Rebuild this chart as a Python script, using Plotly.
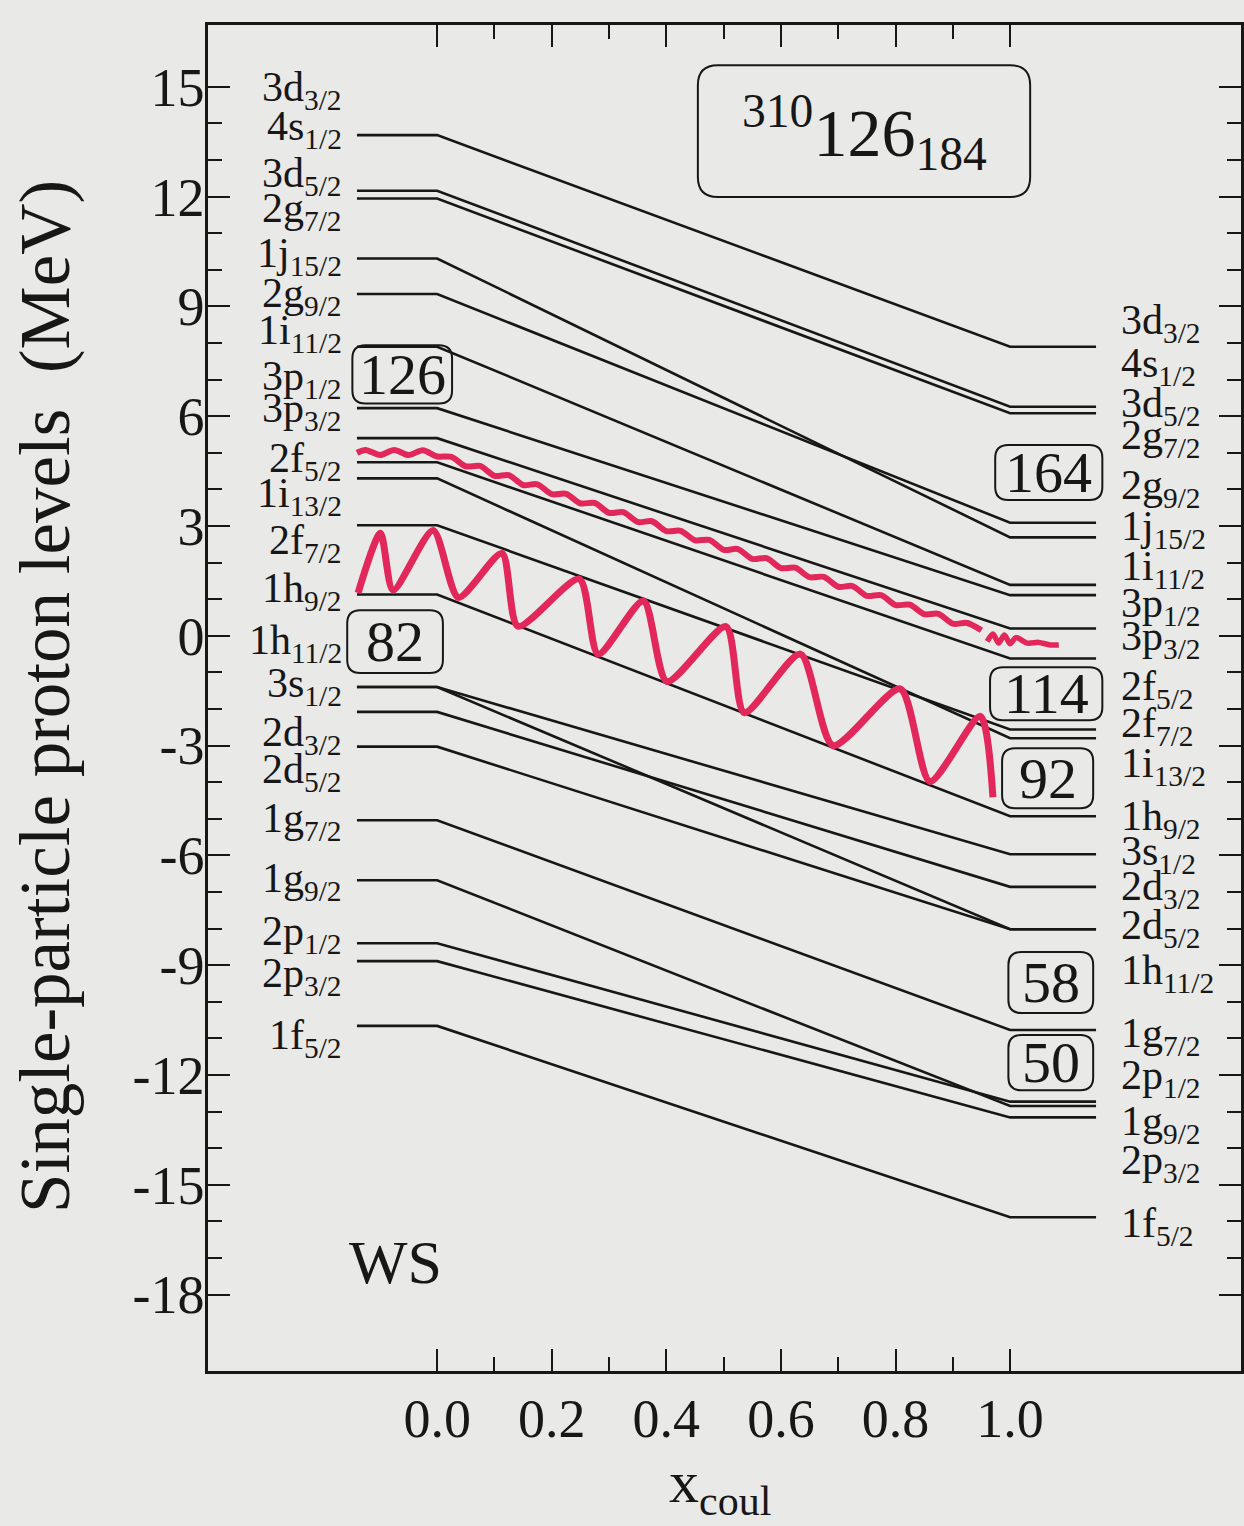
import plotly.graph_objects as go

# Single-particle proton levels of 310-126-184 (Woods-Saxon),
# switching the Coulomb field on from x_coul = 0 to x_coul = 1.
level_names = ["4s1/2", "3d5/2", "2g7/2", "1j15/2", "2g9/2", "1i11/2", "3p1/2",
               "3p3/2", "2f5/2", "1i13/2", "2f7/2", "1h9/2", "1h11/2", "3s1/2",
               "2d3/2", "2d5/2", "1g7/2", "1g9/2", "2p1/2", "2p3/2", "1f5/2"]
e_no_coulomb = [13.68, 12.16, 11.95, 10.31, 9.34, 7.90, 6.22,
                5.40, 4.74, 4.30, 3.02, 1.13, -1.40, -1.40,
                -2.08, -3.03, -5.04, -6.68, -8.40, -8.89, -10.66]
e_full_coulomb = [7.90, 6.26, 6.08, 2.69, 3.09, 1.39, 1.11,
                  0.20, -0.62, -2.80, -2.56, -4.93, -8.02, -5.97,
                  -6.86, -8.02, -10.77, -12.85, -12.73, -13.16, -15.89]

# level labels, listed top to bottom on each side (label centre in MeV)
left_labels = ["3d3/2", "4s1/2", "3d5/2", "2g7/2", "1j15/2", "2g9/2", "1i11/2",
               "3p1/2", "3p3/2", "2f5/2", "1i13/2", "2f7/2", "1h9/2", "1h11/2",
               "3s1/2", "2d3/2", "2d5/2", "1g7/2", "1g9/2", "2p1/2", "2p3/2", "1f5/2"]
left_label_e = [14.91, 13.84, 12.56, 11.60, 10.37, 9.28, 8.27,
                7.01, 6.14, 4.77, 3.81, 2.53, 1.22, -0.20,
                -1.38, -2.70, -3.71, -5.06, -6.70, -8.15, -9.30, -11.00]
right_labels = ["3d3/2", "4s1/2", "3d5/2", "2g7/2", "2g9/2", "1j15/2", "1i11/2",
                "3p1/2", "3p3/2", "2f5/2", "2f7/2", "1i13/2", "1h9/2", "3s1/2",
                "2d3/2", "2d5/2", "1h11/2", "1g7/2", "2p1/2", "1g9/2", "2p3/2", "1f5/2"]
right_label_e = [8.54, 7.37, 6.28, 5.40, 4.04, 2.92, 1.82,
                 0.81, -0.09, -1.46, -2.47, -3.56, -5.01, -5.96,
                 -6.92, -7.99, -9.22, -10.94, -12.09, -13.35, -14.41, -16.13]

# shell-closure numbers: (text, x0, x1, e_top, e_bottom)
magic_boxes = [("126", -0.148, 0.026, 7.94, 6.35),
               ("82", -0.157, 0.010, 0.70, -1.02),
               ("164", 0.974, 1.161, 5.21, 3.71),
               ("114", 0.965, 1.161, -0.86, -2.31),
               ("92", 0.986, 1.145, -3.07, -4.71),
               ("58", 0.997, 1.145, -8.64, -10.31),
               ("50", 0.997, 1.145, -10.91, -12.42)]

# red pen marks over the chart
zigzag_x = [-0.138, -0.099, -0.077, -0.007, 0.037, 0.113, 0.141, 0.248, 0.281, 0.360,
            0.401, 0.504, 0.536, 0.634, 0.691, 0.808, 0.860, 0.948, 0.970]
zigzag_e = [1.17, 2.80, 1.25, 2.88, 1.05, 2.25, 0.26, 1.55, -0.50, 0.95,
            -1.25, 0.25, -2.10, -0.50, -3.00, -1.45, -3.98, -2.20, -4.41]
wavy_x = [-0.140, -0.125, -0.100, -0.075, -0.050, -0.025, 0.000, 0.025, 0.050, 0.075,
          0.100, 0.125, 0.150, 0.175, 0.200, 0.225, 0.250, 0.275, 0.300, 0.325,
          0.350, 0.375, 0.400, 0.425, 0.450, 0.475, 0.500, 0.525, 0.550, 0.575,
          0.600, 0.625, 0.650, 0.675, 0.700, 0.725, 0.750, 0.775, 0.800, 0.825,
          0.850, 0.875, 0.900, 0.925, 0.950]
wavy_e = [5.00, 5.08, 4.94, 5.08, 4.94, 5.07, 4.90, 4.89, 4.63, 4.64,
          4.37, 4.39, 4.12, 4.14, 3.87, 3.88, 3.62, 3.63, 3.36, 3.38,
          3.11, 3.13, 2.86, 2.87, 2.61, 2.62, 2.35, 2.37, 2.10, 2.12,
          1.85, 1.86, 1.60, 1.61, 1.34, 1.36, 1.09, 1.11, 0.84, 0.85,
          0.59, 0.60, 0.33, 0.35, 0.15]
wavy_tail_x = [0.960, 0.970, 0.980, 0.990, 1.000, 1.010, 1.030, 1.050, 1.070, 1.085]
wavy_tail_e = [-0.15, 0.05, -0.20, 0.02, -0.22, -0.05, -0.20, -0.18, -0.25, -0.25]

y_tick_vals = [15, 12, 9, 6, 3, 0, -3, -6, -9, -12, -15, -18]
y_tick_text = ["15", "12", "9", "6", "3", "0", "-3", "-6", "-9", "-12", "-15", "-18"]
x_tick_vals = [0.0, 0.2, 0.4, 0.6, 0.8, 1.0]
x_tick_text = ["0.0", "0.2", "0.4", "0.6", "0.8", "1.0"]

# ---- layout constants ----
W, H = 1244, 1526
PL, PR, PT, PB = 208, 1241, 25, 1371
X_RANGE = [-0.400, 1.403]
Y_RANGE = [-20.09, 16.69]
PX_X = (PR - PL) / (X_RANGE[1] - X_RANGE[0])
PX_Y = (PB - PT) / (Y_RANGE[1] - Y_RANGE[0])
X_FLAT_L, X_FLAT_R = -0.14, 1.15
FONT = "Liberation Serif, Times New Roman, serif"
INK = "#171717"
BG = "#e9e9e7"
RED = "#e2285a"
LABEL_SIZE = 42


def level_label(name):
    return f"{name[:2]}<sub>{name[2:]}</sub>"


def rounded_rect(x0, x1, y_top, y_bot, r_px=13):
    rx, ry = r_px / PX_X, r_px / PX_Y
    return (f"M {x0 + rx},{y_top} L {x1 - rx},{y_top} Q {x1},{y_top} {x1},{y_top - ry} "
            f"L {x1},{y_bot + ry} Q {x1},{y_bot} {x1 - rx},{y_bot} "
            f"L {x0 + rx},{y_bot} Q {x0},{y_bot} {x0},{y_bot + ry} "
            f"L {x0},{y_top - ry} Q {x0},{y_top} {x0 + rx},{y_top} Z")


fig = go.Figure()

for name, e0, e1 in zip(level_names, e_no_coulomb, e_full_coulomb):
    fig.add_trace(go.Scatter(
        x=[X_FLAT_L, 0.0, 1.0, X_FLAT_R], y=[e0, e0, e1, e1],
        mode="lines", name=name, line=dict(color=INK, width=2.6),
        showlegend=False, hoverinfo="skip"))

fig.add_trace(go.Scatter(x=wavy_x, y=wavy_e, mode="lines",
                         line=dict(color=RED, width=6, shape="spline", smoothing=0.8),
                         showlegend=False, hoverinfo="skip"))
fig.add_trace(go.Scatter(x=wavy_tail_x, y=wavy_tail_e, mode="lines",
                         line=dict(color=RED, width=5.5, shape="spline", smoothing=0.8),
                         showlegend=False, hoverinfo="skip"))
fig.add_trace(go.Scatter(x=zigzag_x, y=zigzag_e, mode="lines",
                         line=dict(color=RED, width=7, shape="spline", smoothing=0.7),
                         showlegend=False, hoverinfo="skip"))

annotations = []
for name, e in zip(left_labels, left_label_e):
    annotations.append(dict(x=-0.162, y=e, xref="x", yref="y", text=level_label(name),
                            showarrow=False, xanchor="right", yanchor="middle",
                            font=dict(family=FONT, size=LABEL_SIZE, color=INK)))
for name, e in zip(right_labels, right_label_e):
    annotations.append(dict(x=1.19, y=e, xref="x", yref="y", text=level_label(name),
                            showarrow=False, xanchor="left", yanchor="middle",
                            font=dict(family=FONT, size=LABEL_SIZE, color=INK)))

shapes = []
for text, x0, x1, et, eb in magic_boxes:
    shapes.append(dict(type="path", path=rounded_rect(x0, x1, et, eb), xref="x", yref="y",
                       line=dict(color=INK, width=2)))
    annotations.append(dict(x=(x0 + x1) / 2, y=(et + eb) / 2, xref="x", yref="y", text=text,
                            showarrow=False, xanchor="center", yanchor="middle",
                            font=dict(family=FONT, size=58, color=INK)))

# nucleus box
shapes.append(dict(type="path", path=rounded_rect(0.455, 1.035, 15.59, 11.99, 20),
                   xref="x", yref="y", line=dict(color=INK, width=2)))
annotations.append(dict(x=0.745, y=13.75, xref="x", yref="y",
                        text="<sup>310</sup>126<sub>184</sub>", showarrow=False,
                        xanchor="center", yanchor="middle",
                        font=dict(family=FONT, size=68, color=INK)))

annotations.append(dict(x=-0.073, y=-17.11, xref="x", yref="y", text="WS", showarrow=False,
                        xanchor="center", yanchor="middle",
                        font=dict(family=FONT, size=62, color=INK)))

annotations.append(dict(x=(45 - PL) / (PR - PL), y=(PB - 697) / (PB - PT), xref="paper",
                        yref="paper", text="Single-particle proton levels\u00a0 (MeV)",
                        textangle=-90, showarrow=False, xanchor="center", yanchor="middle",
                        font=dict(family=FONT, size=71, color=INK)))
annotations.append(dict(x=(720 - PL) / (PR - PL), y=(PB - 1486) / (PB - PT), xref="paper",
                        yref="paper", text="x<sub>coul</sub>", showarrow=False,
                        xanchor="center", yanchor="middle",
                        font=dict(family=FONT, size=60, color=INK)))

fig.update_layout(
    width=W, height=H,
    margin=dict(l=PL, r=W - PR, t=PT, b=H - PB, pad=0),
    paper_bgcolor=BG, plot_bgcolor=BG,
    font=dict(family=FONT, color=INK),
    shapes=shapes, annotations=annotations,
    showlegend=False,
)
fig.update_xaxes(
    range=X_RANGE, showgrid=False, zeroline=False, automargin=False,
    showline=True, linecolor=INK, linewidth=2.5, mirror="ticks",
    tickmode="array", tickvals=x_tick_vals, ticktext=x_tick_text,
    ticks="inside", ticklen=22, tickwidth=2, tickcolor=INK,
    tickfont=dict(family=FONT, size=54, color=INK), ticklabelstandoff=-2,
    minor=dict(tickmode="array", tickvals=[0.1, 0.3, 0.5, 0.7, 0.9],
               ticks="inside", ticklen=14, tickwidth=2, tickcolor=INK, showgrid=False),
)
fig.update_yaxes(
    range=Y_RANGE, showgrid=False, zeroline=False, automargin=False,
    showline=True, linecolor=INK, linewidth=2.5, mirror="ticks",
    tickmode="array", tickvals=y_tick_vals, ticktext=y_tick_text,
    ticks="inside", ticklen=22, tickwidth=2, tickcolor=INK,
    tickfont=dict(family=FONT, size=54, color=INK), ticklabelstandoff=-10,
    minor=dict(tickmode="array", tickvals=[v for v in range(-18, 16) if v % 3 != 0],
               ticks="inside", ticklen=14, tickwidth=2, tickcolor=INK, showgrid=False),
)

fig.write_html("out.html")
